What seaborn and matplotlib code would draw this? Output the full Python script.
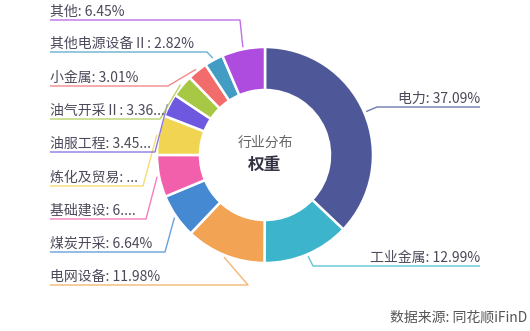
import matplotlib
matplotlib.use("Agg")
import matplotlib.pyplot as plt
import seaborn as sns
import numpy as np

sns.set_theme(style="white")
plt.rcParams['font.family'] = ['Noto Sans CJK SC', 'DejaVu Sans']

categories = ["电力", "工业金属", "电网设备", "煤炭开采", "基础建设", "炼化及贸易",
              "油服工程", "油气开采Ⅱ", "小金属", "其他电源设备Ⅱ", "其他"]
values = [37.09, 12.99, 11.98, 6.64, 6.30, 5.90, 3.45, 3.36, 3.01, 2.82, 6.45]
label_texts = ["电力: 37.09%", "工业金属: 12.99%", "电网设备: 11.98%", "煤炭开采: 6.64%",
               "基础建设: 6....", "炼化及贸易: ...", "油服工程: 3.45...", "油气开采Ⅱ: 3.36...",
               "小金属: 3.01%", "其他电源设备Ⅱ: 2.82%", "其他: 6.45%"]
colors = ["#4e5899", "#3cb4cc", "#f2a454", "#4589d3", "#f25fab", "#f2d453",
          "#6f58e0", "#a6c844", "#f26c6c", "#429cc4", "#ae4ce0"]

# layout (pixel coordinates, y from top): underline y and underline inner end x
side = ["R", "R", "L", "L", "L", "L", "L", "L", "L", "L", "L"]
line_y = [107, 266, 285, 252, 219, 186, 152, 119, 86, 52, 20]
line_end_x = [377, 313, 248, 165, 146, 143, 155, 160, 168, 207, 240]

W, H = 530, 331
fig = plt.figure(figsize=(W / 100, H / 100), dpi=100)
ax = fig.add_axes([0, 0, 1, 1])

cx, cy = 265, H - 155
R, r_in = 108, 65

wedges, _ = ax.pie(values, colors=colors, startangle=90, counterclock=False,
                   center=(cx, cy), radius=R, frame=True,
                   wedgeprops=dict(width=R - r_in, edgecolor="white", linewidth=1.8))
ax.set_xlim(0, W)
ax.set_ylim(0, H)
ax.set_aspect("equal")
ax.axis("off")

text_color = "#4a4a5a"
fs = 10
for w, txt, s, ly, ex, col in zip(wedges, label_texts, side, line_y, line_end_x, colors):
    ang = np.deg2rad((w.theta1 + w.theta2) / 2)
    sx = cx + (R + 2) * np.cos(ang)
    sy = cy + (R + 2) * np.sin(ang)
    yy = H - ly
    if s == "R":
        ax.plot([sx, ex, 480], [sy, yy, yy], color=col, lw=1, alpha=0.8, solid_capstyle="butt")
        ax.text(480, yy + 1.5, txt, ha="right", va="bottom", fontsize=fs, color=text_color)
    else:
        ax.plot([sx, ex, 50], [sy, yy, yy], color=col, lw=1, alpha=0.8, solid_capstyle="butt")
        ax.text(50, yy + 1.5, txt, ha="left", va="bottom", fontsize=fs, color=text_color)

ax.text(cx, cy + 12, "行业分布", ha="center", va="center", fontsize=10, color="#666666")
ax.text(cx, cy - 10, "权重", ha="center", va="center", fontsize=12, color="#333344",
        fontweight="bold")

ax.text(527, 6, "数据来源: 同花顺iFinD", ha="right", va="bottom", fontsize=10, color="#555555")

fig.savefig("out.png", dpi=100, facecolor="white")
